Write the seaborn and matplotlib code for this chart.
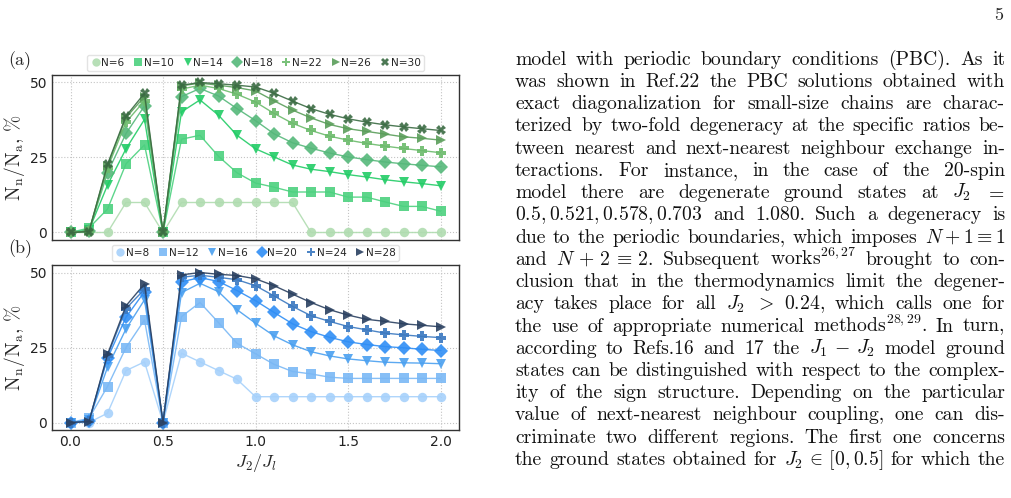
import matplotlib
matplotlib.use("Agg")
import matplotlib.pyplot as plt
from matplotlib.lines import Line2D
import seaborn as sns
import pandas as pd

# ---- data ------------------------------------------------------------
j_ratio = [0.0, 0.1, 0.2, 0.3, 0.4, 0.5, 0.6, 0.7, 0.8, 0.9, 1.0,
           1.1, 1.2, 1.3, 1.4, 1.5, 1.6, 1.7, 1.8, 1.9, 2.0]

# panel (a)
g6 = [0, 0, 0, 10, 10, 0, 10, 10, 10, 10, 10, 10, 10, 0, 0, 0, 0, 0, 0, 0, 0]
g10 = [0, 1.5, 7.8, 22.9, 29.2, 0, 31.1, 32.4, 25.4, 19.9, 16.5, 15.1, 13.5,
       13.5, 13.5, 11.8, 11.8, 10.2, 8.7, 8.7, 7.1]
g14 = [0, 0.8, 15.8, 27.9, 37.7, 0, 40.2, 44.2, 39.1, 32.4, 27.9, 25.2, 22.5,
       21.1, 20.3, 19.3, 18.5, 17.6, 16.9, 16.3, 15.6]
g18 = [0, 0.5, 19.9, 33.0, 42.2, 0, 45.3, 48.0, 45.5, 41.3, 37.3, 32.9, 29.9,
       28.1, 26.5, 25.2, 24.3, 23.5, 22.9, 22.4, 21.9]
g22 = [0, 0.5, 21.5, 36.8, 43.9, 0, 47.8, 49.1, 48.0, 46.1, 43.5, 39.7, 36.4,
       34.0, 32.1, 30.8, 29.7, 28.8, 28.0, 27.3, 26.6]
g26 = [0, 0.4, 22.3, 38.3, 45.3, 0, 48.9, 49.8, 49.1, 48.3, 47.2, 43.9, 40.8,
       38.2, 36.0, 34.6, 33.7, 32.8, 31.9, 31.4, 30.8]
g30 = [0, 0.3, 22.7, 38.8, 46.4, 0, 49.1, 50.0, 49.6, 49.1, 48.5, 46.4, 43.8,
       41.3, 39.4, 37.9, 36.8, 35.9, 35.2, 34.6, 34.0]

# panel (b)
b8 = [0, 0, 3.1, 17.3, 20.2, 0, 23.1, 20.2, 17.3, 14.4, 8.6, 8.6, 8.6, 8.6,
      8.6, 8.6, 8.6, 8.6, 8.6, 8.6, 8.6]
b12 = [0, 1.4, 12.0, 25.0, 34.2, 0, 35.3, 40.0, 33.3, 26.4, 22.9, 19.4, 17.0,
       16.2, 15.1, 14.7, 14.7, 14.7, 14.7, 14.7, 14.7]
b16 = [0, 0.8, 18.4, 31.2, 40.9, 0, 43.3, 46.4, 43.6, 37.6, 33.1, 28.9, 25.9,
       23.6, 22.2, 21.2, 20.6, 20.1, 19.9, 19.8, 19.6]
b20 = [0, 0.5, 21.4, 35.1, 43.6, 0, 46.9, 48.3, 47.0, 44.0, 40.6, 36.7, 32.9,
       30.3, 28.4, 26.9, 26.0, 25.3, 24.9, 24.4, 24.0]
b24 = [0, 0.4, 22.2, 38.0, 44.4, 0, 48.4, 49.1, 48.4, 47.6, 45.6, 42.2, 38.7,
       35.6, 33.7, 32.0, 30.9, 29.8, 29.2, 28.7, 28.3]
b28 = [0, 0.3, 22.7, 38.9, 46.2, 0, 49.2, 50.0, 49.4, 49.0, 47.9, 45.6, 42.8,
       40.0, 37.6, 35.8, 34.4, 33.7, 32.9, 32.4, 31.9]

labels_a = ["N=6", "N=10", "N=14", "N=18", "N=22", "N=26", "N=30"]
series_a = [g6, g10, g14, g18, g22, g26, g30]
colors_a = ["#b0dcb0", "#4cd17f", "#22cc66", "#55b87a", "#6cbb6c", "#5a9e5a", "#3a6b42"]
markers_a = ["o", "s", "v", "D", "P", ">", "X"]

labels_b = ["N=8", "N=12", "N=16", "N=20", "N=24", "N=28"]
series_b = [b8, b12, b16, b20, b24, b28]
colors_b = ["#a6d1fb", "#7ab8f5", "#4aa0f0", "#2f8ef5", "#3a78c0", "#2a4060"]
markers_b = ["o", "s", "v", "D", "P", ">"]

page_lines = [
    "model with periodic boundary conditions (PBC). As it",
    "was shown in Ref.22 the PBC solutions obtained with",
    "exact diagonalization for small-size chains are charac-",
    "terized by two-fold degeneracy at the specific ratios be-",
    "tween nearest and next-nearest neighbour exchange in-",
    "teractions. For instance, in the case of the 20-spin",
    "model there are degenerate ground states at $J_2$ $=$",
    "$0.5,0.521,0.578,0.703$ and 1.080. Such a degeneracy is",
    "due to the periodic boundaries, which imposes $N+1\\equiv1$",
    "and $N\\,+\\,2\\,\\equiv\\,2$. Subsequent works$^{26,27}$ brought to con-",
    "clusion that in the thermodynamics limit the degener-",
    "acy takes place for all $J_2$ $>$ $0.24$, which calls one for",
    "the use of appropriate numerical methods$^{28,29}$. In turn,",
    "according to Refs.16 and 17 the $J_1\\,-\\,J_2$ model ground",
    "states can be distinguished with respect to the complex-",
    "ity of the sign structure. Depending on the particular",
    "value of next-nearest neighbour coupling, one can dis-",
    "criminate two different regions. The first one concerns",
    "the ground states obtained for $J_2\\,\\in\\,[0,0.5]$ for which the",
]


def long_frame(labels, series):
    rows = []
    for lab, vals in zip(labels, series):
        for x, v in zip(j_ratio, vals):
            rows.append({"J": x, "val": v, "N": lab})
    return pd.DataFrame(rows)


# ---- figure ----------------------------------------------------------
sns.set_style("white")
plt.rcParams["mathtext.fontset"] = "cm"
plt.rcParams["font.family"] = ["DejaVu Sans"]

W, H = 1011, 498
fig = plt.figure(figsize=(W / 100, H / 100), dpi=100)
ax_a = fig.add_axes([52 / W, 1 - 240 / H, 407 / W, 165 / H])
ax_b = fig.add_axes([52 / W, 1 - 430 / H, 407 / W, 165 / H])

panels = [(ax_a, labels_a, series_a, colors_a, markers_a),
          (ax_b, labels_b, series_b, colors_b, markers_b)]

for ax, labels, series, colors, markers in panels:
    df = long_frame(labels, series)
    sns.lineplot(data=df, x="J", y="val", hue="N", style="N", hue_order=labels,
                 style_order=labels, palette=colors,
                 markers=dict(zip(labels, markers)), dashes=False,
                 markersize=6.8, linewidth=1.0, markeredgewidth=0,
                 alpha=0.9, legend=False, ax=ax)
    ax.set_xlim(-0.1, 2.1)
    ax.set_ylim(-2.5, 52.5)
    ax.set_xticks([0.0, 0.5, 1.0, 1.5, 2.0])
    ax.set_yticks([0, 25, 50])
    ax.grid(True, linestyle=":", color="#c4c4c4", linewidth=0.8)
    ax.tick_params(direction="in", length=4, width=0.8, labelsize=10,
                   colors="#222222")
    for sp in ax.spines.values():
        sp.set_color("#333333")
        sp.set_linewidth(1.0)
    ax.set_ylabel(r"$\mathrm{N_n/N_a},\,\%$", fontsize=14, labelpad=2)
    ax.set_xlabel("")
    handles = [Line2D([], [], marker=m, color=c, linestyle="none",
                      markersize=6, markeredgewidth=0, alpha=0.9)
               for m, c in zip(markers, colors)]
    ax.legend(handles, labels, ncol=len(labels), loc="lower center",
              bbox_to_anchor=(0.5, 1.025), fontsize=7.6, frameon=True,
              fancybox=True, edgecolor="#dddddd", handletextpad=0.05,
              columnspacing=0.8, borderpad=0.3, handlelength=1.0,
              borderaxespad=0)

ax_a.tick_params(labelbottom=False)
ax_b.set_xlabel(r"$J_2/J_l$", fontsize=13, labelpad=2)

serif = "cmr10"
fig.text(8 / W, 1 - 65 / H, "(a)", family=serif, fontsize=13)
fig.text(8 / W, 1 - 253 / H, "(b)", family=serif, fontsize=13)
fig.text(1003 / W, 1 - 20 / H, "5", family=serif, fontsize=13, ha="right")

# ---- justified page text ---------------------------------------------
fig.canvas.draw()
renderer = fig.canvas.get_renderer()
x_left, x_right = 515, 1005
for i, line in enumerate(page_lines):
    y = 1 - (64.5 + 22.25 * i) / H
    words = line.split(" ")
    items = [fig.text(0, y, w, family=serif, fontsize=14.2, color="#111111")
             for w in words]
    widths = [t.get_window_extent(renderer).width for t in items]
    gap = (x_right - x_left - sum(widths)) / max(len(words) - 1, 1)
    x = x_left
    for t, w in zip(items, widths):
        t.set_x(x / W)
        x += w + gap

fig.savefig("out.png", dpi=100)
